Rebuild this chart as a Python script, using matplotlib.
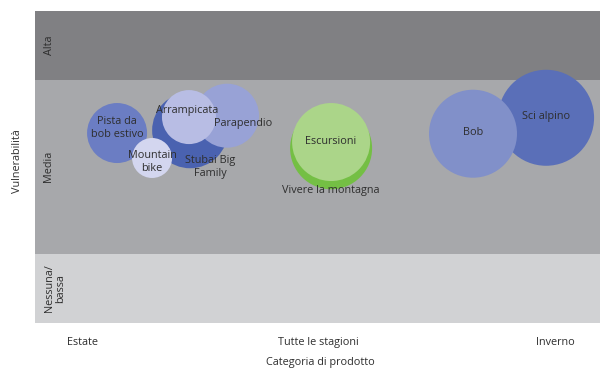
import matplotlib
matplotlib.use("Agg")
import matplotlib.pyplot as plt

plt.rcParams['font.family'] = ['Open Sans', 'DejaVu Sans']

# ---- data ----
season_ticks = ["Estate", "Tutte le stagioni", "Inverno"]
band_labels = ["Nessuna/\nbassa", "Media", "Alta"]
band_edges = [0.0, 1.0, 3.5, 4.5]
band_colors = ["#d1d2d4", "#a7a8ab", "#808083"]

names = ["Stubai Big\nFamily", "Parapendio", "Arrampicata", "Pista da\nbob estivo",
         "Mountain\nbike", "Vivere la montagna", "Escursioni", "Sci alpino", "Bob"]
season_pos = [0.457, 0.613, 0.452, 0.148, 0.296, 1.053, 1.053, 1.962, 1.653]
vulnerability = [2.78, 2.99, 2.97, 2.74, 2.38, 2.52, 2.61, 2.96, 2.73]
bubble_radius = [38, 32, 27, 30, 20, 41, 39, 48, 44]
colors = ["#4a62b0", "#98a2d6", "#b8bde4", "#6b7dc3", "#d3d6ef",
          "#74bf44", "#abd589", "#5a6fb8", "#8190c9"]
label_offset_px = [(20, 37), (16, 8), (-2, -7), (0, -5), (0, 4), (0, 42), (0, -1), (0, -1), (0, -1)]

# ---- figure ----
W, H = 600, 368
FS = 7.8
TC = '#2e2e2e'
fig = plt.figure(figsize=(6, 3.68), dpi=100)
ax = fig.add_axes([35 / W, (H - 323) / H, 565 / W, 312 / H])
x0, x1 = -0.199, 2.190
ax.set_xlim(x0, x1)
ax.set_ylim(0, 4.5)

for i in range(3):
    ax.axhspan(band_edges[i], band_edges[i + 1], color=band_colors[i], lw=0, zorder=0)

pt = 72 / 100
for i, n in enumerate(names):
    d = 2 * bubble_radius[i] * pt
    ax.scatter([season_pos[i]], [vulnerability[i]], s=d * d, color=colors[i],
               edgecolors='none', zorder=2 + i)
for i, n in enumerate(names):
    dx, dy = label_offset_px[i]
    ax.annotate(n, (season_pos[i], vulnerability[i]), xytext=(dx * pt, -dy * pt),
                textcoords='offset points', ha='center', va='center',
                fontsize=FS, color=TC, zorder=20, linespacing=1.2)

for s in ax.spines.values():
    s.set_visible(False)
ax.set_xticks([0, 1, 2])
ax.set_xticklabels(season_ticks, fontsize=FS, color=TC)
ax.tick_params(axis='x', length=0, pad=10)
ax.set_yticks([])
fig.text(320 / W, (H - 362) / H, "Categoria di prodotto", ha='center', va='center',
         fontsize=FS, color=TC)

# band labels
ax.text(49 / W, (H - 45) / H, band_labels[2], transform=fig.transFigure, rotation=90,
        ha='center', va='center', fontsize=FS, color=TC)
ax.text(49 / W, (H - 166) / H, band_labels[1], transform=fig.transFigure, rotation=90,
        ha='center', va='center', fontsize=FS, color=TC)
ax.text(55 / W, (H - 312) / H, band_labels[0], transform=fig.transFigure, rotation=90,
        ha='center', va='bottom', fontsize=FS, color=TC, linespacing=1.0)
fig.text(18 / W, (H - 161) / H, "Vulnerabilità", rotation=90, ha='center', va='center',
         fontsize=FS, color=TC)

fig.savefig("out.png", dpi=100, facecolor='white')
